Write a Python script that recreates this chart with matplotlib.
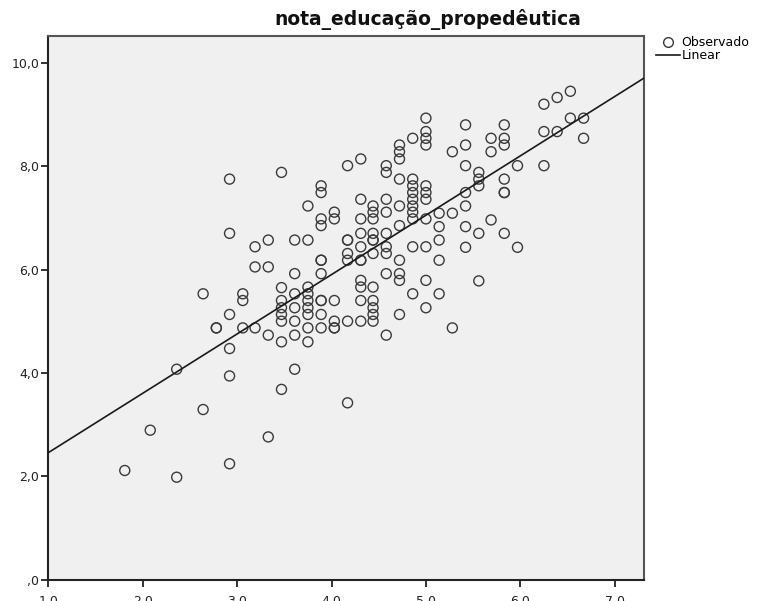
import numpy as np
import matplotlib
matplotlib.use("Agg")
import matplotlib.pyplot as plt
from matplotlib.lines import Line2D

nota_x = (
    [1.81] + [2.08] + [2.36] * 2 + [2.64] * 2 + [2.78] * 2
    + [2.92] * 6 + [3.06] * 3 + [3.19] * 3 + [3.33] * 4 + [3.47] * 8
    + [3.61] * 7 + [3.75] * 9 + [3.89] * 11 + [4.03] * 6 + [4.17] * 7
    + [4.31] * 11 + [4.44] * 12 + [4.58] * 9 + [4.72] * 10 + [4.86] * 10
    + [5.00] * 11 + [5.14] * 5 + [5.28] * 3 + [5.42] * 7 + [5.56] * 5
    + [5.69] * 3 + [5.83] * 7 + [5.97] * 2 + [6.25] * 3 + [6.39] * 2
    + [6.53] * 2 + [6.67] * 2
)
nota_y = [
    2.11,
    2.89,
    4.07, 1.98,
    5.53, 3.29,
    4.87, 4.87,
    7.75, 6.70, 5.13, 4.47, 3.94, 2.24,
    5.53, 5.40, 4.87,
    6.44, 6.05, 4.87,
    6.57, 6.05, 4.73, 2.76,
    7.88, 5.65, 5.40, 5.26, 5.13, 5.00, 4.60, 3.68,
    6.57, 5.92, 5.53, 5.26, 5.00, 4.73, 4.07,
    7.23, 6.57, 5.66, 5.53, 5.40, 5.26, 5.13, 4.87, 4.60,
    7.62, 7.49, 6.98, 6.85, 6.18, 6.18, 5.92, 5.40, 5.40, 5.13, 4.87,
    7.11, 6.98, 5.40, 5.00, 4.87, 4.87,
    8.01, 6.57, 6.57, 6.31, 6.18, 5.00, 3.42,
    8.14, 7.36, 6.98, 6.70, 6.44, 6.18, 6.18, 5.79, 5.66, 5.40, 5.00,
    7.23, 7.11, 6.98, 6.70, 6.57, 6.57, 6.31, 5.66, 5.40, 5.26, 5.13, 5.00,
    8.01, 7.88, 7.36, 7.11, 6.70, 6.44, 6.31, 5.92, 4.73,
    8.41, 8.28, 8.14, 7.75, 7.23, 6.85, 6.18, 5.92, 5.79, 5.13,
    8.54, 7.75, 7.62, 7.49, 7.36, 7.23, 7.11, 6.98, 6.44, 5.53,
    8.93, 8.67, 8.54, 8.41, 7.62, 7.49, 7.36, 6.98, 6.44, 5.79, 5.26,
    7.09, 6.83, 6.57, 6.18, 5.53,
    8.28, 7.09, 4.87,
    8.80, 8.41, 8.01, 7.49, 7.23, 6.83, 6.43,
    7.88, 7.75, 7.62, 6.70, 5.78,
    8.54, 8.28, 6.96,
    8.80, 8.54, 8.41, 7.75, 7.49, 7.49, 6.70,
    8.01, 6.43,
    9.20, 8.67, 8.01,
    9.33, 8.67,
    9.45, 8.93,
    8.93, 8.54,
]

# ajuste linear
linear_intercept = 1.306
linear_slope = 1.149

x_ticks = [1, 2, 3, 4, 5, 6, 7]
y_ticks = [0, 2, 4, 6, 8, 10]
titulo = "nota_educação_propedêutica"


def rotulo(v):
    s = f"{v:.1f}".replace(".", ",")
    return ",0" if v == 0 else s


plt.rcParams["font.family"] = ["DejaVu Sans"]

fig = plt.figure(figsize=(7.66, 6.01), dpi=100)
ax = fig.add_axes([48.3 / 766, 21.5 / 601, 595.7 / 766, 543.5 / 601])
ax.set_facecolor("#f0f0f0")

xmin, xmax = 1.0, 7.31
ax.set_xlim(xmin, xmax)
ax.set_ylim(0, 10.52)

ax.scatter(nota_x, nota_y, s=52, facecolors="none", edgecolors="#3a3a3a",
           linewidths=1.0, zorder=3)

xs = np.array([xmin, xmax])
ax.plot(xs, linear_intercept + linear_slope * xs, color="#1a1a1a", lw=1.2, zorder=4)

ax.set_xticks(x_ticks)
ax.set_yticks(y_ticks)
ax.set_xticklabels([rotulo(v) for v in x_ticks])
ax.set_yticklabels([rotulo(v) for v in y_ticks])
ax.tick_params(axis="both", direction="out", length=5, width=1.3,
               color="#222222", labelsize=9, labelcolor="#222222")
ax.tick_params(axis="x", pad=6)
ax.tick_params(axis="y", pad=1.5)

for lado in ["left", "bottom"]:
    ax.spines[lado].set_linewidth(1.5)
    ax.spines[lado].set_color("#222222")
for lado in ["top", "right"]:
    ax.spines[lado].set_linewidth(1.5)
    ax.spines[lado].set_color("#555555")

fig.text(428 / 766, 1 - 19 / 601, titulo, ha="center", va="center",
         fontsize=13.5, fontweight="bold", color="#111111")

handles = [
    Line2D([], [], marker="o", ls="none", markersize=7, markerfacecolor="none",
           markeredgecolor="#3a3a3a", markeredgewidth=1.0),
    Line2D([], [], color="#1a1a1a", lw=1.2),
]
fig.legend(handles, ["Observado", "Linear"], loc="upper left",
           bbox_to_anchor=(656 / 766, 1 - 36 / 601), frameon=False,
           fontsize=9, handlelength=1.9, handletextpad=0.15,
           labelspacing=0.0, borderpad=0, borderaxespad=0)

fig.savefig("out.png", dpi=100)
